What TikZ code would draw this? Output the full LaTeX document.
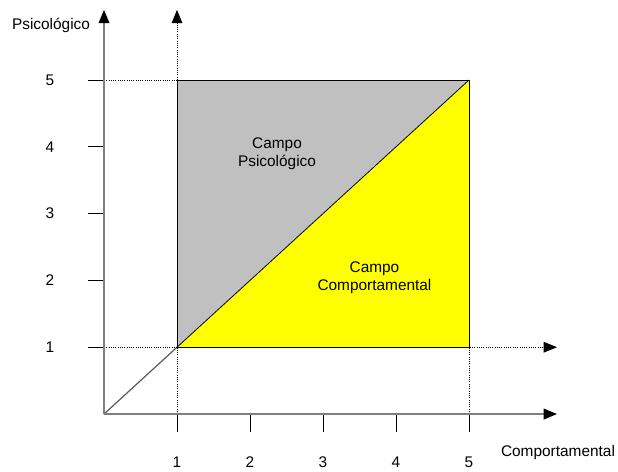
\documentclass[tikz,border=0pt]{standalone}
\usepackage{fontspec}
\setmainfont{Liberation Sans}
\usetikzlibrary{arrows.meta}
\definecolor{axisgray}{HTML}{808080}
\definecolor{psyfill}{HTML}{C0C0C0}
\definecolor{behfill}{HTML}{FFFF00}

\begin{document}
\begin{tikzpicture}[
  x=1.9315cm, y=1.7675cm,
  font=\fontsize{11.6}{13.5}\selectfont,
  tip/.style={-{Triangle[length=10pt,width=8pt,color=black]}},
  axisline/.style={draw=axisgray, line width=1.3pt, tip},
  guideline/.style={draw=black, densely dotted, line width=0.7pt},
  tickmark/.style={draw=black, line width=0.6pt},
  edge/.style={draw=black, line width=0.6pt},
]
\useasboundingbox (-1.4247,-0.853) rectangle (7.041,6.198);
\def\xtop{6.205}
\def\ytop{6.05}
% --- corners of the square ---
\coordinate (O) at (0,0);
\coordinate (A) at (1,1);
\coordinate (B) at (5,1);
\coordinate (C) at (5,5);
\coordinate (D) at (1,5);
% --- the two fields ---
\fill[psyfill] (A) -- (C) -- (D) -- cycle;
\fill[behfill] (A) -- (B) -- (C) -- cycle;
\draw[edge] (A) -- (B) -- (C) -- (D) -- cycle;
\draw[edge] (A) -- (C);
\draw[draw=axisgray!70!black, line width=0.9pt] (O) -- (A);
% --- dotted guides and shifted axes ---
\coordinate (g1) at (1,0);
\coordinate (g1top) at (1,\ytop);
\coordinate (h1) at (0,1);
\coordinate (h1end) at (\xtop,1);
\coordinate (g5) at (5,0);
\coordinate (h5) at (0,5);
\draw[guideline, tip] (g1) -- (g1top);
\draw[guideline, tip] (h1) -- (h1end);
\draw[guideline] (g5) -- (B);
\draw[guideline] (h5) -- (D);
% --- ticks and numbers ---
\foreach \i in {1,...,5} {
  \coordinate (yt\i) at (-0.22,\i);
  \coordinate (ya\i) at (0,\i);
  \draw[tickmark] (yt\i) -- (ya\i);
  \node (ylab\i) at (-0.74,\i) {\i};
  \coordinate (xt\i) at (\i,-0.27);
  \coordinate (xa\i) at (\i,0);
  \draw[tickmark] (xt\i) -- (xa\i);
  \node (xlab\i) at (\i,-0.715) {\i};
}
% --- main axes ---
\coordinate (ytip) at (0,\ytop);
\coordinate (xtip) at (\xtop,0);
\draw[axisline] (O) -- (ytip);
\draw[axisline] (O) -- (xtip);
% axis names
\node (ylabel) at (-0.726,5.823) {Psicológico};
\node (xlabel) at (6.219,-0.569) {Comportamental};
% --- field names ---
\node[align=center] (psyname) at (2.37,3.89) {Campo\\Psicológico};
\node[align=center] (behname) at (3.705,2.036) {Campo\\Comportamental};
\end{tikzpicture}
\end{document}
